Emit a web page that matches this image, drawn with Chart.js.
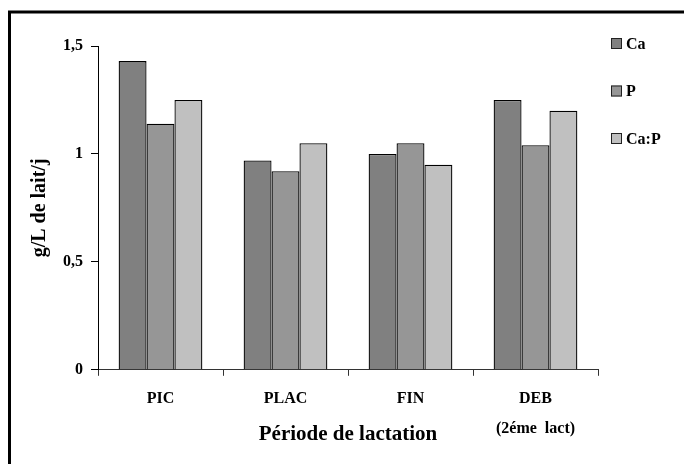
<!DOCTYPE html>
<html>
<head>
<meta charset="utf-8">
<script src="https://cdn.jsdelivr.net/npm/chart.js@4"></script>
<style>
  html, body { margin: 0; padding: 0; background: #fff; }
  #wrap { width: 684px; height: 464px; position: relative; }
</style>
</head>
<body>
<div id="wrap"><canvas id="myChart"></canvas></div>
<script>
// données
const periodes = ['PIC', 'PLAC', 'FIN', ['DEB', '(2éme  lact)']];
const seriesNames = ['Ca', 'P', 'Ca:P'];
const valCa = [1.43, 0.97, 1.00, 1.25];
const valP = [1.14, 0.92, 1.05, 1.04];
const valCaP = [1.25, 1.05, 0.95, 1.20];
const yTickLabels = ['0', '0,5', '1', '1,5'];
const couleurs = ['#808080', '#969696', '#c0c0c0'];

const serif = '"Liberation Serif", "Times New Roman", serif';

// cadre noir autour de la figure
const cadre = {
    id: 'cadre',
    afterDraw(chart) {
        const ctx = chart.ctx;
        ctx.save();
        ctx.strokeStyle = '#000';
        ctx.lineWidth = 3;
        ctx.strokeRect(9.5, 12, 720, 520);
        ctx.restore();
    }
};

// légende à droite, comme dans la figure d'origine
const legende = {
    id: 'legende',
    afterDraw(chart) {
        const ctx = chart.ctx;
        ctx.save();
        ctx.font = 'bold 16px ' + serif;
        ctx.textBaseline = 'middle';
        ctx.textAlign = 'left';
        chart.data.datasets.forEach((ds, i) => {
            const y = 43.5 + i * 47.5;
            ctx.fillStyle = ds.backgroundColor;
            ctx.fillRect(611, y - 5.5, 11, 11);
            ctx.strokeStyle = '#222';
            ctx.lineWidth = 1;
            ctx.strokeRect(611.5, y - 5, 10, 10);
            ctx.fillStyle = '#000';
            ctx.fillText(ds.label, 626, y + 1);
        });
        ctx.restore();
    }
};

const ctx = document.getElementById('myChart');
new Chart(ctx, {
    type: 'bar',
    data: {
        labels: periodes,
        datasets: [valCa, valP, valCaP].map((vals, i) => ({
            label: seriesNames[i],
            data: vals,
            backgroundColor: couleurs[i],
            borderColor: '#000',
            borderWidth: 1.3,
            barPercentage: 1,
            categoryPercentage: 0.67
        }))
    },
    options: {
        responsive: true,
        maintainAspectRatio: false,
        animation: false,
        layout: {
            padding: { left: 28, top: 46, right: 86, bottom: 17 }
        },
        plugins: {
            legend: { display: false },
            tooltip: { enabled: false }
        },
        scales: {
            x: {
                grid: {
                    display: true,
                    drawOnChartArea: false,
                    drawTicks: true,
                    tickLength: 6,
                    color: '#333'
                },
                border: { color: '#333', width: 1 },
                ticks: {
                    color: '#000',
                    padding: 8,
                    maxRotation: 0,
                    font: { family: serif, size: 16, weight: 'bold', lineHeight: 1.875 }
                },
                title: {
                    display: true,
                    text: 'Période de lactation',
                    color: '#000',
                    padding: { top: -30, bottom: 0 },
                    font: { family: serif, size: 21, weight: 'bold' }
                }
            },
            y: {
                min: 0,
                max: 1.5,
                grid: {
                    display: true,
                    drawOnChartArea: false,
                    drawTicks: true,
                    tickLength: 7,
                    color: '#000'
                },
                border: { color: '#000', width: 1 },
                ticks: {
                    stepSize: 0.5,
                    color: '#000',
                    padding: 8,
                    font: { family: serif, size: 16, weight: 'bold' },
                    callback: function (value, index) {
                        return yTickLabels[index];
                    }
                },
                title: {
                    display: true,
                    text: 'g/L de lait/j',
                    color: '#000',
                    padding: { top: 0, bottom: 3 },
                    font: { family: serif, size: 20, weight: 'bold' }
                }
            }
        }
    },
    plugins: [cadre, legende]
});
</script>
</body>
</html>
